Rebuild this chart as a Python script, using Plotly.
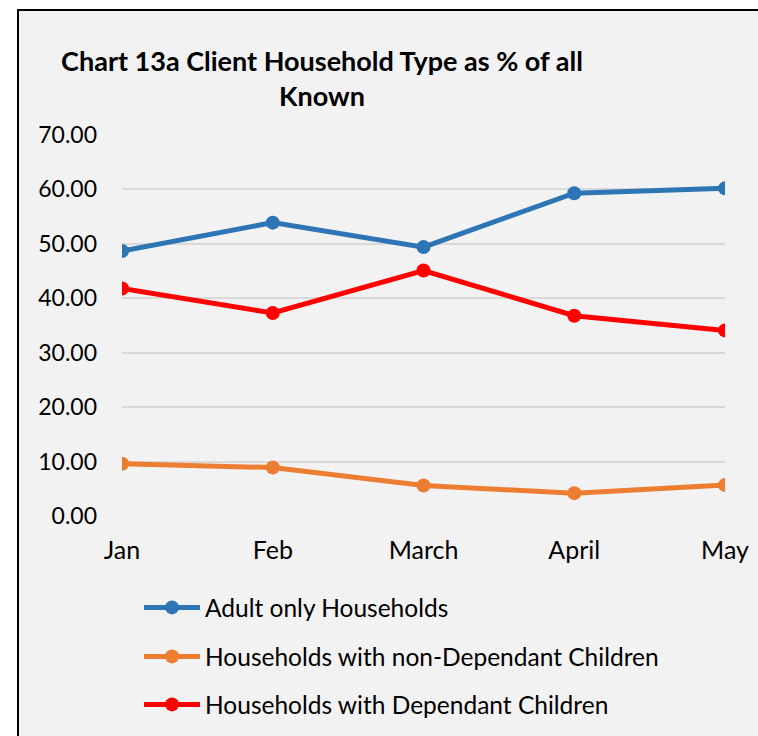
import plotly.graph_objects as go

months = ["Jan", "Feb", "March", "April", "May"]
adult_only = [48.7, 53.9, 49.4, 59.3, 60.2]
non_dependant = [9.6, 8.9, 5.6, 4.2, 5.7]
dependant = [41.8, 37.3, 45.1, 36.8, 34.1]
y_ticks = [0, 10, 20, 30, 40, 50, 60, 70]

series = [
    ("Adult only Households", adult_only, "#2e75b6"),
    ("Households with non-Dependant Children", non_dependant, "#ed7d31"),
    ("Households with Dependant Children", dependant, "#ff0000"),
]

W, H = 758, 736
L, R, T, B = 122, 33, 135, 220
pw = W - L - R
ph = H - T - B

legend_ids = ["legend", "legend2", "legend3"]
legend_centers = [607, 656, 704]

fig = go.Figure()
for i, (name, vals, col) in enumerate(series):
    fig.add_trace(go.Scatter(
        x=list(range(len(months))), y=vals, name=name, mode="lines+markers",
        line=dict(color=col, width=5), marker=dict(color=col, size=14),
        legend=legend_ids[i],
    ))

fig.add_shape(type="rect", xref="paper", yref="paper",
              x0=(18 - L) / pw, x1=(W + 20 - L) / pw,
              y0=-(H + 20 - (H - B)) / ph, y1=((H - B) - 10) / ph,
              line=dict(color="black", width=2), fillcolor="#f2f2f2", layer="below")

font = "Lato, 'Open Sans', sans-serif"
legend_style = {}
for lid, c in zip(legend_ids, legend_centers):
    legend_style[lid] = dict(x=(139 - L) / pw, xanchor="left",
                             y=-((c - 22) - (H - B)) / ph, yanchor="top",
                             xref="paper", yref="paper", bgcolor="rgba(0,0,0,0)",
                             font=dict(size=24.5), itemwidth=56)

fig.update_layout(
    width=W, height=H,
    margin=dict(l=L, r=R, t=T, b=B, autoexpand=False),
    paper_bgcolor="white", plot_bgcolor="rgba(0,0,0,0)",
    font=dict(family=font, color="black"),
    title=dict(text="<b>Chart 13a Client Household Type as % of all<br>Known</b>",
               x=322 / W, xanchor="center", xref="container",
               y=1 - 71 / H, yanchor="top", yref="container",
               font=dict(size=27, family=font, color="black")),
    xaxis=dict(tickmode="array", tickvals=list(range(len(months))), ticktext=months,
               range=[0, 4], showgrid=False, zeroline=False, showline=False,
               automargin=False, tickfont=dict(size=25), ticklabelstandoff=17),
    yaxis=dict(range=[0, 70], tickvals=y_ticks, tickformat=".2f",
               showgrid=True, gridcolor="#d9d9d9", gridwidth=1.5,
               zeroline=False, showline=False, automargin=False,
               tickfont=dict(size=23), ticklabelstandoff=24),
    showlegend=True,
    **legend_style,
)

fig.write_html("out.html")
